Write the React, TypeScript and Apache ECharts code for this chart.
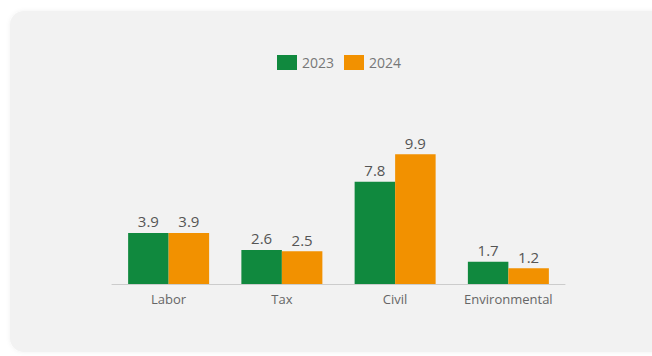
import React, { useEffect, useRef } from "react";
import * as echarts from "echarts";

const categories = ["Labor", "Tax", "Civil", "Environmental"];
const values2023 = [3.9, 2.6, 7.8, 1.7];
const values2024 = [3.9, 2.5, 9.9, 1.2];
const seriesNames = ["2023", "2024"];

const GREEN = "#10893e";
const ORANGE = "#f29100";
const FONT = "'Open Sans', 'Noto Sans', sans-serif";

export default function App() {
  const ref = useRef<HTMLDivElement>(null);
  useEffect(() => {
    if (!ref.current) return;
    const chart = echarts.init(ref.current, undefined, { renderer: "svg" });
    const labelStyle = {
      show: true,
      position: "top" as const,
      distance: 4,
      color: "#555",
      fontSize: 15,
      fontFamily: FONT,
    };
    chart.setOption({
      animation: false,
      backgroundColor: "#ffffff",
      graphic: [
        {
          type: "rect",
          z: -10,
          shape: { x: 10, y: 11, width: 660, height: 341, r: 14 },
          style: {
            fill: "#f2f2f2",
            shadowBlur: 4,
            shadowColor: "rgba(0,0,0,0.06)",
          },
        },
      ],
      legend: {
        top: 50,
        left: 272,
        icon: "rect",
        itemWidth: 20,
        itemHeight: 15,
        itemGap: 10,
        textStyle: { color: "#777", fontSize: 14, fontFamily: FONT },
        data: seriesNames,
      },
      grid: { left: 112, right: 87, top: 153, bottom: 72, containLabel: false },
      xAxis: {
        type: "category",
        data: categories,
        axisLine: { show: true, lineStyle: { color: "#cccccc", width: 1 } },
        axisTick: { show: false },
        axisLabel: {
          color: "#666",
          fontSize: 13,
          fontFamily: FONT,
          margin: 8,
          interval: 0,
        },
      },
      yAxis: {
        type: "value",
        min: 0,
        max: 10,
        show: false,
        splitLine: { show: false },
      },
      series: [
        {
          name: seriesNames[0],
          type: "bar",
          data: values2023,
          barWidth: 40.5,
          barGap: "0%",
          itemStyle: { color: GREEN },
          label: labelStyle,
        },
        {
          name: seriesNames[1],
          type: "bar",
          data: values2024,
          barWidth: 40.5,
          barGap: "0%",
          itemStyle: { color: ORANGE },
          label: labelStyle,
        },
      ],
    });
    return () => chart.dispose();
  }, []);
  return (
    <div
      ref={ref}
      style={{ position: "fixed", left: 0, top: 0, width: 652, height: 356 }}
    />
  );
}
